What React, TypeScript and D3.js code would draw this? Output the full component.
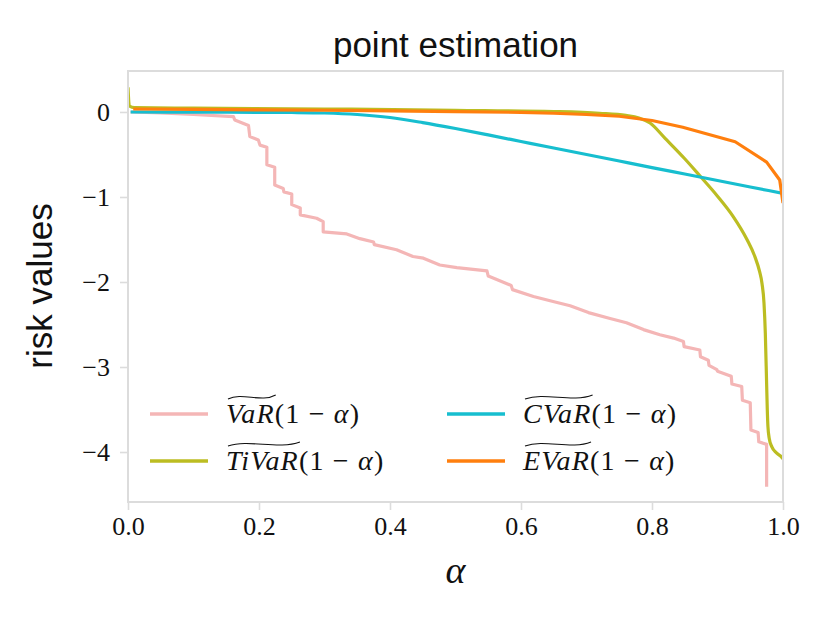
import React, { useEffect, useRef } from 'react';
import * as d3 from 'd3';

// alpha grid and values for each estimator
const varAlpha = [
  0.004, 0.05, 0.1, 0.161, 0.163, 0.184, 0.186, 0.199, 0.2015, 0.212, 0.212, 0.224, 0.224, 0.237, 0.238,
  0.25, 0.25, 0.263, 0.263, 0.288, 0.298, 0.298, 0.334, 0.354, 0.375, 0.376, 0.41, 0.435, 0.451, 0.476,
  0.502, 0.548, 0.55, 0.585, 0.587, 0.619, 0.649, 0.675, 0.703, 0.736, 0.761, 0.787, 0.812, 0.833, 0.848,
  0.849, 0.873, 0.874, 0.886, 0.887, 0.899, 0.9, 0.921, 0.922, 0.937, 0.938, 0.95, 0.951, 0.962, 0.963,
  0.975, 0.975,
];
const varValues = [
  0.0, -0.01, -0.03, -0.055, -0.094, -0.16, -0.29, -0.33, -0.39, -0.415, -0.62, -0.65, -0.86, -0.9, -0.94,
  -0.965, -1.09, -1.13, -1.21, -1.25, -1.29, -1.41, -1.435, -1.49, -1.53, -1.56, -1.62, -1.7, -1.72, -1.8,
  -1.83, -1.87, -1.93, -2.04, -2.09, -2.17, -2.23, -2.28, -2.36, -2.43, -2.48, -2.56, -2.62, -2.66, -2.7,
  -2.76, -2.8, -2.88, -2.92, -2.98, -3.03, -3.05, -3.11, -3.2, -3.23, -3.39, -3.42, -3.74, -3.77, -3.88,
  -3.91, -4.41,
];

const tivarAlpha = [
  0, 0.002, 0.01, 0.1, 0.3, 0.5, 0.65, 0.72, 0.76, 0.78, 0.797, 0.82, 0.85, 0.873, 0.9, 0.924, 0.945,
  0.957, 0.964, 0.968, 0.971, 0.973, 0.975, 0.976, 0.977, 0.979, 0.983, 0.99, 0.998, 1.0,
];
const tivarValues = [
  0.29, 0.07, 0.05, 0.045, 0.035, 0.02, 0.005, -0.015, -0.04, -0.07, -0.13, -0.31, -0.55, -0.75, -0.99,
  -1.23, -1.5, -1.7, -1.87, -2.02, -2.25, -2.6, -3.2, -3.5, -3.7, -3.84, -3.94, -4.01, -4.06, -4.08,
];

const cvarAlpha = [
  0.004, 0.1, 0.2, 0.25, 0.3, 0.35, 0.4, 0.45, 0.5, 0.55, 0.6, 0.65, 0.7, 0.75, 0.8, 0.85, 0.9, 0.95, 1.0,
];
const cvarValues = [
  0.0, -0.002, -0.004, -0.006, -0.012, -0.03, -0.065, -0.125, -0.195, -0.27, -0.347, -0.424, -0.5, -0.577,
  -0.654, -0.73, -0.806, -0.882, -0.958,
];

const evarAlpha = [0.008, 0.1, 0.2, 0.3, 0.4, 0.5, 0.6, 0.65, 0.7, 0.75, 0.8, 0.847, 0.927, 0.975, 0.995, 1.0];
const evarValues = [
  0.035, 0.03, 0.025, 0.02, 0.012, 0.005, -0.005, -0.015, -0.03, -0.05, -0.1, -0.18, -0.35, -0.59, -0.8, -1.07,
];

const seriesNames = ['VaR', 'TiVaR', 'CVaR', 'EVaR'];
const seriesColors = ['#f4b6b6', '#bcbd22', '#17becf', '#ff7f0e'];
const xTicks = [0, 0.2, 0.4, 0.6, 0.8, 1.0];
const yTicks = [0, -1, -2, -3, -4];

const serif = '"Liberation Serif", "DejaVu Serif", serif';
const sans = '"Liberation Sans", Arial, sans-serif';

const App = () => {
  const ref = useRef<SVGSVGElement>(null);

  useEffect(() => {
    drawChart();
  }, []);

  const drawChart = () => {
    const svg = d3.select(ref.current);
    svg.selectAll('*').remove();

    const left = 128;
    const right = 783;
    const top = 71;
    const bottom = 502;

    const x = d3.scaleLinear().domain([0, 1]).range([left, right]);
    const y = d3.scaleLinear().domain([0.482, -4.588]).range([top, bottom]);

    svg
      .append('clipPath')
      .attr('id', 'plot-clip')
      .append('rect')
      .attr('x', left)
      .attr('y', top)
      .attr('width', right - left)
      .attr('height', bottom - top);

    // axes
    const yAxis = svg
      .append('g')
      .attr('transform', `translate(${left},0)`)
      .call(
        d3
          .axisLeft(y)
          .tickValues(yTicks)
          .tickSize(8)
          .tickPadding(10)
          .tickFormat((d) => (+d === 0 ? '0' : '\u2212' + Math.abs(+d)))
      );
    const xAxis = svg
      .append('g')
      .attr('transform', `translate(0,${bottom})`)
      .call(d3.axisBottom(x).tickValues(xTicks).tickSize(8).tickPadding(7).tickFormat(d3.format('.1f')));

    [xAxis, yAxis].forEach((a) => {
      a.select('.domain').remove();
      a.selectAll('.tick line').attr('stroke', '#dcdcdc').attr('stroke-width', 1.6);
      a.selectAll('.tick text').attr('font-family', serif).attr('font-size', 26).attr('fill', '#111');
    });

    // lines
    const series = [
      { alpha: varAlpha, values: varValues, curve: d3.curveLinear },
      { alpha: tivarAlpha, values: tivarValues, curve: d3.curveMonotoneX },
      { alpha: cvarAlpha, values: cvarValues, curve: d3.curveMonotoneX },
      { alpha: evarAlpha, values: evarValues, curve: d3.curveLinear },
    ];
    const lines = svg.append('g').attr('clip-path', 'url(#plot-clip)');
    series.forEach((s, i) => {
      const pts: [number, number][] = s.alpha.map((a, j) => [a, s.values[j]]);
      const line = d3
        .line<[number, number]>()
        .x((d) => x(d[0]))
        .y((d) => y(d[1]))
        .curve(s.curve);
      lines
        .append('path')
        .attr('d', line(pts) || '')
        .attr('fill', 'none')
        .attr('stroke', seriesColors[i])
        .attr('stroke-width', 3.2)
        .attr('stroke-linejoin', 'round');
    });

    // frame
    svg
      .append('rect')
      .attr('x', left)
      .attr('y', top)
      .attr('width', right - left)
      .attr('height', bottom - top)
      .attr('fill', 'none')
      .attr('stroke', '#dcdcdc')
      .attr('stroke-width', 2);

    // legend, two columns filled column by column
    const legend = svg.append('g');
    seriesNames.forEach((name, i) => {
      const col = Math.floor(i / 2);
      const row = i % 2;
      const hx = [150, 447][col];
      const hy = [414, 461][row];
      legend
        .append('line')
        .attr('x1', hx)
        .attr('x2', hx + 58)
        .attr('y1', hy)
        .attr('y2', hy)
        .attr('stroke', seriesColors[i])
        .attr('stroke-width', 3.6);
      const tx = hx + 76;
      const ty = hy + 9;
      const text = legend
        .append('text')
        .attr('x', tx)
        .attr('y', ty)
        .attr('font-family', serif)
        .attr('font-size', 28)
        .attr('letter-spacing', 1.2)
        .attr('fill', '#111');
      const it = text.append('tspan').attr('font-style', 'italic').text(name);
      text.append('tspan').text('(1 \u2212 ');
      text.append('tspan').attr('font-style', 'italic').text('\u03b1');
      text.append('tspan').text(')');
      const w = (it.node() as SVGTSpanElement).getComputedTextLength();
      const x0 = tx + 2;
      const x1 = tx + w + 1;
      const yt = ty - 26;
      legend
        .append('path')
        .attr(
          'd',
          `M${x0},${yt + 2} C${x0 + (x1 - x0) * 0.3},${yt - 5} ${x0 + (x1 - x0) * 0.7},${yt + 6} ${x1},${yt - 2}`
        )
        .attr('fill', 'none')
        .attr('stroke', '#111')
        .attr('stroke-width', 1.1);
    });

    // labels
    svg
      .append('text')
      .attr('x', (left + right) / 2)
      .attr('y', 57)
      .attr('text-anchor', 'middle')
      .attr('font-family', sans)
      .attr('font-size', 35)
      .attr('fill', '#111')
      .text('point estimation');

    svg
      .append('text')
      .attr('transform', `translate(52,286) rotate(-90)`)
      .attr('text-anchor', 'middle')
      .attr('font-family', sans)
      .attr('font-size', 35)
      .attr('fill', '#111')
      .text('risk values');

    svg
      .append('text')
      .attr('x', (left + right) / 2)
      .attr('y', 583)
      .attr('text-anchor', 'middle')
      .attr('font-family', serif)
      .attr('font-style', 'italic')
      .attr('font-size', 38)
      .attr('fill', '#111')
      .text('\u03b1');
  };

  return (
    <svg
      ref={ref}
      width={829}
      height={617}
      style={{ position: 'absolute', left: 0, top: 0, background: '#fff' }}
    />
  );
};

export default App;
